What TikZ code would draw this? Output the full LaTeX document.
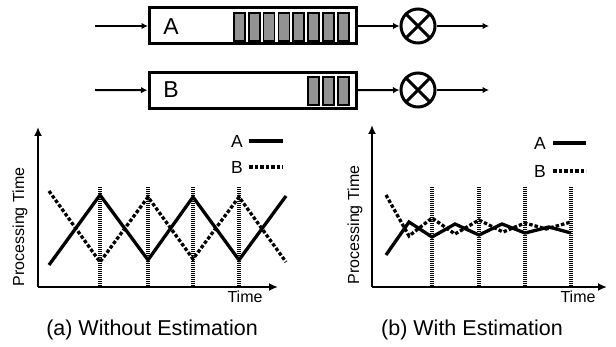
\documentclass[tikz,border=0pt]{standalone}
\usepackage{fontspec}
\setmainfont{Liberation Sans}
\usetikzlibrary{arrows.meta}
\begin{document}
\begin{tikzpicture}[x=1pt,y=-1pt,
  qbox/.style={draw,line width=3pt,minimum width=207pt,minimum height=36pt,inner sep=0pt},
  cell/.style={draw,line width=1.8pt,fill=gray!85,minimum width=11pt,minimum height=28.5pt,inner sep=0pt},
  mult/.style={draw,circle,line width=3pt,minimum size=34pt,inner sep=0pt,
    path picture={\draw[line width=3pt] (path picture bounding box.north west)--(path picture bounding box.south east)
      (path picture bounding box.north east)--(path picture bounding box.south west);}},
  arr/.style={line width=2pt,-{Latex[length=6.5pt,width=6.5pt]}},
  axis/.style={line width=2pt,-{Latex[length=9pt,width=8pt]}},
  curveA/.style={line width=3.3pt,line join=miter},
  curveB/.style={line width=3.3pt,dash pattern=on 3.5pt off 2pt},
  vdot/.style={line width=3.5pt,dash pattern=on 1.2pt off 0.8pt},
  big/.style={font=\fontsize{23}{26}\selectfont},
  lab/.style={font=\fontsize{16}{18}\selectfont},
  leg/.style={font=\fontsize{17.5}{20}\selectfont},
  captxt/.style={font=\fontsize{21.5}{25}\selectfont}]
\useasboundingbox (0,0) rectangle (616,347);

% ---- queues ----
\node[qbox] (boxA) at (253,26) {};
\node[qbox] (boxB) at (252.5,90.5) {};
\node[big] (labA) at (171,27) {A};
\node[big] (labB) at (171,90) {B};
\foreach \i in {0,...,7} {\node[cell] (ca\i) at (239.2+14.9*\i,27) {};}
\foreach \i in {5,6,7} {\node[cell] (cb\i) at (239.2+14.9*\i,91) {};}
\node[mult] (mA) at (418,26) {};
\node[mult] (mB) at (418,90) {};
\coordinate (inA) at (95,26);
\coordinate (inB) at (95,90);
\coordinate (outA) at (489,26);
\coordinate (outB) at (489,90);
\draw[arr] (inA) -- (boxA);
\draw[arr] (inB) -- (boxB);
\draw[arr] (boxA) -- (mA);
\draw[arr] (boxB) -- (mB);
\draw[arr] (mA) -- (outA);
\draw[arr] (mB) -- (outB);

% ---- chart (a) ----
\coordinate (oa) at (38,287);
\coordinate (ya) at (38,127);
\coordinate (xa) at (278,287);
\draw[axis] (oa) -- (ya);
\draw[axis] (oa) -- (xa);
\foreach \x in {100,148,193,239} {\draw[vdot] (\x,187) -- (\x,287);}
\draw[curveA] (49,265) -- (100,195) -- (148,260) -- (193,197) -- (239,260) -- (286,196);
\draw[curveB] (49,191) -- (100,262) -- (148,197) -- (193,259) -- (239,197) -- (286,262);
\node[leg] (laA) at (237,141) {A};
\node[leg] (laB) at (237,167) {B};
\draw[curveA] (249,141) -- (283,141);
\draw[curveB] (249,167) -- (283,167);
\node[lab] (ta) at (245,297) {Time};
\node[lab,rotate=90] (pa) at (20,227) {Processing Time};
\node[captxt] (capa) at (152,330) {(a) Without Estimation};

% ---- chart (b) ----
\coordinate (ob) at (372,287);
\coordinate (yb) at (372,125);
\coordinate (xb) at (607,287);
\draw[axis] (ob) -- (yb);
\draw[axis] (ob) -- (xb);
\foreach \x in {432,479,525,571} {\draw[vdot] (\x,187) -- (\x,287);}
\draw[curveA] (386,255) -- (409,222) -- (432,237) -- (455,224) -- (479,235) -- (502,224) -- (525,233) -- (549,227) -- (571,233);
\draw[curveB] (386,195) -- (409,236) -- (432,218) -- (455,234) -- (479,220) -- (503,232) -- (525,223) -- (546,229) -- (571,222);
\node[leg] (lbA) at (540,143) {A};
\node[leg] (lbB) at (540,171) {B};
\draw[curveA] (553,143) -- (586,143);
\draw[curveB] (553,171) -- (586,171);
\node[lab] (tb) at (578,297) {Time};
\node[lab,rotate=90] (pb) at (355,225) {Processing Time};
\node[captxt] (capb) at (472,330) {(b) With Estimation};
\end{tikzpicture}
\end{document}
